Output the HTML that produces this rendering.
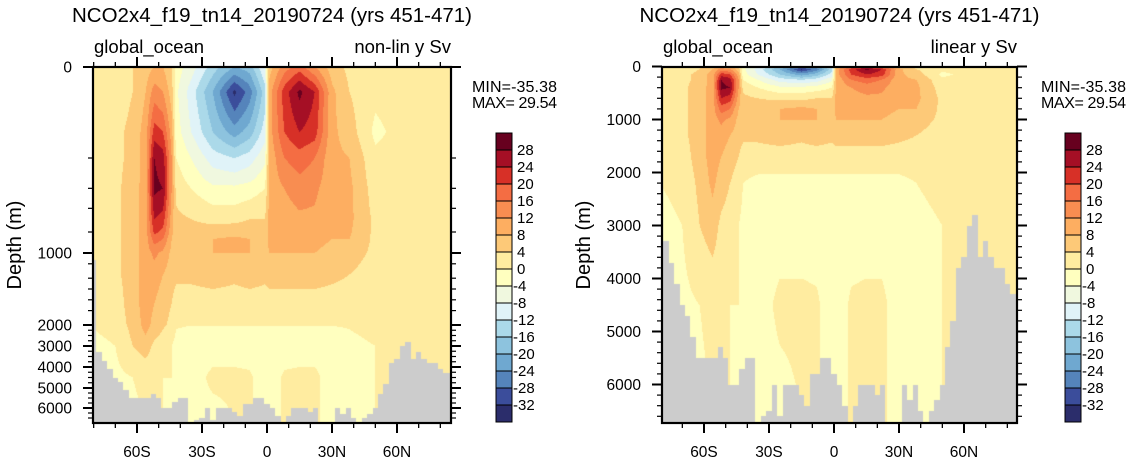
<!DOCTYPE html>
<html><head><meta charset="utf-8">
<style>
html,body{margin:0;padding:0;background:#fff;width:1134px;height:463px;overflow:hidden;}
#wrap{position:relative;width:1134px;height:463px;}
canvas{position:absolute;}
svg{position:absolute;left:0;top:0;}
text{font-family:"Liberation Sans",Arial,sans-serif;fill:#000;}
</style></head>
<body>
<div id="wrap">
<canvas id="cL" style="left:93px;top:67px" width="358" height="356"></canvas>
<canvas id="cR" style="left:662px;top:67px" width="355" height="356"></canvas>
<svg id="ov" width="1134" height="463"></svg>
</div>
<script>
// ---- data ----
const lats = [-80,-70,-62,-56,-52,-48,-44,-42,-35,-25,-15,-8,-1,1,8,15,22,30,38,50,65,86];
const depths = [0,50,150,250,400,600,800,1000,1300,1700,2200,3000,4500,6800];
const fieldColumns = [
 [2,2,2,2,2,2,2,2,2,1,0,-1,-1,-1],
 [2,2,3,3,3,3,3,3,3,2,1,0,-1,-1],
 [4,4,5,5,6,6,6,6,6,6,5,4,0,-1],
 [6,8,10,10,10,10,10,10,10,10,9,6,1,0],
 [8,14,22,28,29,24,18,13,10,8,6,3,1,0],
 [8,12,20,26,28,22,16,11,8,6,4,2,0,0],
 [4,6,10,12,12,10,8,7,6,4,2,0,0,-1],
 [-2,-3,-2,0,3,5,6,6,5,2,0,-1,-1,-1],
 [-6,-10,-8,-4,0,4,6,6,5,2,-1,-1,-1,-1],
 [-14,-20,-16,-10,-3,3,8,8,6,2,-1,-1,0.5,-1],
 [-20,-33,-22,-12,-3,3,9,8,5,2,-1,-1,0.5,0],
 [-18,-26,-18,-10,-2,4,8,8,6,2,-1,-1,0.3,0],
 [-8,-14,-10,-5,0,4,6,6,5,2,-1,-1,-1,0],
 [6,10,10,9,9,9,9,8,6,2,-1,-1,-1,0],
 [14,22,20,16,12,10,9,8,6,2,-1,-1,0.3,0],
 [18,29,24,18,14,11,9,8,6,2,-1,-1,0.5,0],
 [12,24,22,16,13,11,9,8,6,2,-1,-1,0.5,0],
 [6,9,9,9,9,9,8,7,5,2,-1,-1,-1,0],
 [3,4,6,8,9,9,8,6,4,2,0,-1,-1,0],
 [1,1,-1,1,2,3,3,3,2,1,1,0,0,0],
 [1,2,2,2,2,2,2,2,2,1,1,1,1,1],
 [1,2,2,2,2,2,2,2,2,2,2,2,2,2]
];
const bathyLats = [-80,-77.5,-75,-72.5,-70,-67.5,-65,-62.5,-60,-57.5,-55,-52.5,-50,-47.5,-45,-42.5,-40,-37.5,-35,-32.5,-30,-27.5,-25,-22.5,-20,-17.5,-15,-12.5,-10,-7.5,-5,-2.5,0,2.5,5,7.5,10,12.5,15,17.5,20,22.5,25,27.5,30,32.5,35,37.5,40,42.5,45,47.5,50,52.5,55,57.5,60,62.5,65,67.5,70,72.5,75,77.5,80,82.5,85,87.5];
const bathyDepths = [1100,3300,3700,4100,4500,4700,5100,5500,5500,5500,5500,5300,5500,6000,6000,5700,5500,5500,6800,6600,6500,6000,6600,6000,6000,6000,6200,6400,5800,5800,5500,5500,5800,6000,6400,6800,6400,6000,6000,6000,6200,6000,6800,6800,6800,6000,6300,6000,6500,6800,6500,6300,6000,5300,4800,3800,3600,3000,2800,3600,3300,3600,3800,3800,4100,4300,4300,4300];
const levels = [-32,-28,-24,-20,-16,-12,-8,-4,0,4,8,12,16,20,24,28];
const levelLabels = ["-32","-28","-24","-20","-16","-12","-8","-4","0","4","8","12","16","20","24","28"];
const latTicks = [-60,-30,0,30,60];
const latTickLabels = ["60S","30S","0","30N","60N"];
const depthTicksNL = [0,1000,2000,3000,4000,5000,6000];
const depthTicksLin = [0,1000,2000,3000,4000,5000,6000];
const minText = "MIN=-35.38", maxText = "MAX= 29.54";

// ---- style ----
const colors = ["#2b2d6b","#3b4d9b","#5584bb","#6fa8d0","#8dc3de","#abd9e9","#e0f3f8","#f0f8df","#ffffbf","#ffeca0","#fdc978","#fdae61","#f88d51","#f46d43","#d73027","#a50f25","#67001f"];
const PXDEG=2.1667;
const nlD=[0,50,100,150,250,350,470,530,700,1000,2000,3000,4000,5000,6000,6750];
const nlY=[67,92,113,132,158,180,200,210,232,253,325,346,367,388,408,423];
function interp1(xs,ys,v){
  if(v<=xs[0])return ys[0];
  for(let i=0;i<xs.length-1;i++){ if(v<=xs[i+1]){const t=(v-xs[i])/(xs[i+1]-xs[i]);return ys[i]+t*(ys[i+1]-ys[i]);} }
  return ys[ys.length-1];
}
const yNL = d=>interp1(nlD,nlY,d);
const dNL = y=>interp1(nlY,nlD,y);
const yLin = d=>66.5+d*0.053;
const dLin = y=>(y-66.5)/0.053;

function findIdx(arr,v){let i=0;while(i<arr.length-2&&v>arr[i+1])i++;return i;}
function field(lat,d){
  const i=findIdx(lats,lat), j=findIdx(depths,d);
  let tx=(lat-lats[i])/(lats[i+1]-lats[i]); tx=Math.max(0,Math.min(1,tx));
  let ty=(d-depths[j])/(depths[j+1]-depths[j]); ty=Math.max(0,Math.min(1,ty));
  const a=fieldColumns[i][j],b=fieldColumns[i+1][j],c=fieldColumns[i][j+1],e=fieldColumns[i+1][j+1];
  return (a*(1-tx)+b*tx)*(1-ty)+(c*(1-tx)+e*tx)*ty;
}
function bathy(lat){
  let best=0,bd=1e9;
  for(let k=0;k<bathyLats.length;k++){const dd=Math.abs(bathyLats[k]-lat);if(dd<bd){bd=dd;best=k;}}
  return bathyDepths[best];
}
function hex(c){return [parseInt(c.substr(1,2),16),parseInt(c.substr(3,2),16),parseInt(c.substr(5,2),16)];}
const rgb=colors.map(hex);
function binOf(v){let k=0;while(k<levels.length&&v>=levels[k])k++;return k;}

function drawField(id,x0,xZero,yToDepth){
  const cv=document.getElementById(id),ctx=cv.getContext('2d');
  const W=cv.width,H=cv.height,img=ctx.createImageData(W,H);
  for(let px=0;px<W;px++){
    const lat=(x0+px+0.5-xZero)/PXDEG, bd=bathy(lat);
    for(let py=0;py<H;py++){
      const d=yToDepth(67+py+0.5);
      let c;
      if(d>bd) c=[204,204,204]; else c=rgb[binOf(field(lat,d))];
      const o=(py*W+px)*4; img.data[o]=c[0];img.data[o+1]=c[1];img.data[o+2]=c[2];img.data[o+3]=255;
    }
  }
  ctx.putImageData(img,0,0);
}
drawField('cL',93,267,dNL);
drawField('cR',662,834,dLin);

// ---- axes ----
const NS='http://www.w3.org/2000/svg', svg=document.getElementById('ov');
function mk(tag,attrs,parent){const e=document.createElementNS(NS,tag);for(const k in attrs)e.setAttribute(k,attrs[k]);(parent||svg).appendChild(e);return e;}
function txt(s,x,y,size,anchor,parent){const t=mk('text',{x:x,y:y,'font-size':size,'text-anchor':anchor||'start'},parent);t.textContent=s;return t;}

function panel(p){
  const g=mk('g',{});
  
  
  const xL=p.x0,xR=p.x1,yT=67,yB=423;
  const title=txt("NCO2x4_f19_tn14_20190724 (yrs 451-471)",(xL+xR)/2,22,20.5,'middle',g);
  
  
  const lt=txt("global_ocean",xL+1,53,18.5,'start',g);
  
  
  const rt=txt(p.rightLabel,xR,53,18.5,'end',g);
  
  
  const xc=lat=>p.xZero+lat*PXDEG;
  for(let lat=-80;lat<=86;lat+=10){
    const x=xc(lat); if(x>xR+0.5||x<xL-0.5)continue;
    const major=(lat%30===0);
    const L=major?10:5;
    const t1=mk('line',{x1:x,y1:yB,x2:x,y2:yB+L,stroke:'#000','stroke-width':major?2:1.3},g);
    
    
    const t2=mk('line',{x1:x,y1:yT,x2:x,y2:yT-L,stroke:'#000','stroke-width':major?2:1.3},g);
    
    
  }
  latTicks.forEach((lat,i)=>{
    const t=txt(latTickLabels[i],xc(lat),457,15.5,'middle',g);
    
    
  });
  p.minor.forEach(d=>{
    const y=p.yOf(d); if(y>yB)return;
    const a=mk('line',{x1:xL,y1:y,x2:xL-5,y2:y,stroke:'#000','stroke-width':1.2},g);
    
    
    const b=mk('line',{x1:xR,y1:y,x2:xR+5,y2:y,stroke:'#000','stroke-width':1.2},g);
    
    
  });
  p.ticks.forEach(d=>{
    const y=p.yOf(d);
    const a=mk('line',{x1:xL,y1:y,x2:xL-10,y2:y,stroke:'#000','stroke-width':2},g);
    
    
    const b=mk('line',{x1:xR,y1:y,x2:xR+10,y2:y,stroke:'#000','stroke-width':2},g);
    
    
    const t=txt(String(d),xL-21,y+5.5,15.5,'end',g);
    
    
  });
  const fr=mk('rect',{x:xL,y:yT,width:xR-xL,height:yB-yT,fill:'none',stroke:'#000','stroke-width':2.2},g);
  
  
  const yt=txt("Depth (m)",0,0,20,'middle',g);
  yt.setAttribute('transform','translate('+p.ytX+',245) rotate(-90)');
  
  
  const mn=txt(minText,p.cbX-24,92,16,'start',g);
  mn.setAttribute('textLength','85');
  
  
  const mx=txt(maxText,p.cbX-24,108,16,'start',g);
  mx.setAttribute('textLength','85');
  
  
  const cbT=133,cbB=422,n=colors.length,h=(cbB-cbT)/n;
  for(let k=0;k<n;k++){
    const r=mk('rect',{x:p.cbX,y:cbT+k*h,width:16,height:h,fill:colors[n-1-k],stroke:'#000','stroke-width':1},g);
    
    
  }
  for(let k=0;k<levels.length;k++){
    const y=cbT+(levels.length-k)*h;
    const t=txt(levelLabels[k],p.cbX+(levelLabels[k][0]==='-'?17:21),y+5,15,'start',g);
    
    
  }
}
const minorNL=[250,400,520,700,1150,1350,1500,1650,1800,2250,2500,2750,3250,3500,3750,4250,4500,4750,5250,5500,5750,6250,6500];
const minorLin=[];
for(let d=200;d<=6600;d+=200){if(d%1000!==0)minorLin.push(d);}
panel({name:'left',x0:93,x1:451,xZero:267,rightLabel:"non-lin y Sv",yOf:yNL,ticks:depthTicksNL,minor:minorNL,ytX:21,cbX:496});
panel({name:'right',x0:662,x1:1017,xZero:834,rightLabel:"linear y Sv",yOf:yLin,ticks:depthTicksLin,minor:minorLin,ytX:590,cbX:1065});
</script>
</body></html>
